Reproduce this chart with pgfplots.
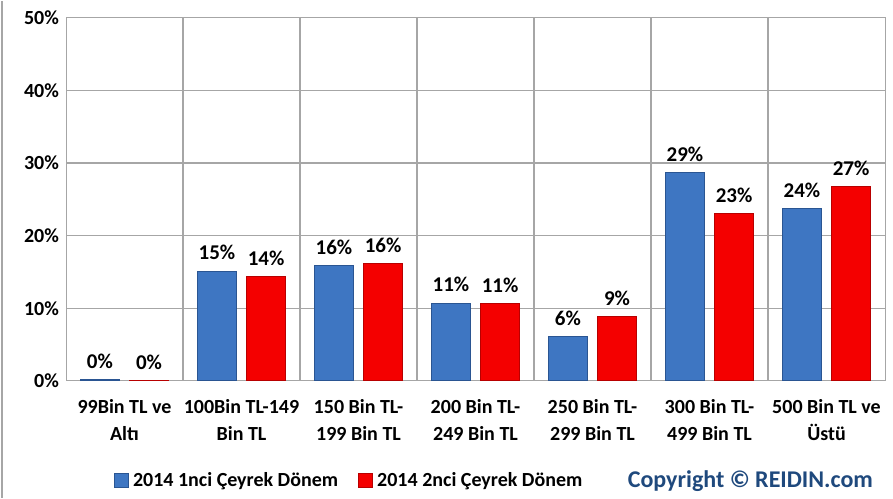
\documentclass[border=0pt]{standalone}
\usepackage{fontspec}
\setmainfont{Carlito}
\usepackage{pgfplots}
\pgfplotsset{compat=1.18}

\definecolor{gridgray}{HTML}{A6A6A6}
\definecolor{bluefill}{HTML}{3E76C2}
\definecolor{blueedge}{HTML}{2A5592}
\definecolor{redfill}{HTML}{F40000}
\definecolor{rededge}{HTML}{B80000}
\definecolor{copyblue}{HTML}{1F497D}

% values (%)
\pgfplotstableread{
x q1 q2
0 0.2 0.0
1 15.1 14.3
2 15.9 16.1
3 10.7 10.6
4 6.1 8.8
5 28.7 23.0
6 23.7 26.7
}\shares

\begin{document}
\begin{tikzpicture}
\begin{axis}[
    name=ax,
    scale only axis,
    width=409.5pt, height=181.5pt,
    xmin=-0.5, xmax=6.5,
    ymin=0, ymax=50,
    ybar,
    bar width=0.34,
    /pgf/number format/assume math mode=true,
    font=\fontsize{10pt}{12pt}\selectfont\bfseries,
    axis line style={gridgray},
    major tick length=0pt, minor tick length=0pt,
    ytick={0,10,...,50},
    yticklabel={\pgfmathprintnumber[fixed,precision=0]{\tick}\%},
    xtick={0,...,6},
    xticklabels={99Bin TL ve\\Altı, 100Bin TL-149\\Bin TL, 150 Bin TL-\\199 Bin TL,
                 200 Bin TL-\\249 Bin TL, 250 Bin TL-\\299 Bin TL, 300 Bin TL-\\499 Bin TL,
                 500 Bin TL ve\\Üstü},
    xticklabel style={align=center, yshift=-6pt, font=\fontsize{10pt}{13.5pt}\selectfont\bfseries},
    minor xtick={0.5,1.5,...,5.5},
    ymajorgrids, xminorgrids,
    grid style={gridgray, line width=0.6pt},
    nodes near coords={\pgfmathprintnumber[fixed,precision=0]{\pgfplotspointmeta}\%},
    every node near coord/.append style={font=\fontsize{10.5pt}{12pt}\selectfont\bfseries, yshift=2pt},
    legend columns=2,
    legend style={at={(0.347,-0.275)}, anchor=center, draw=none, fill=none,
                  font=\fontsize{10pt}{12pt}\selectfont\bfseries,
                  /tikz/every even column/.append style={column sep=8pt}},
    legend image code/.code={\fill[#1] (0pt,-3.5pt) rectangle (7pt,3.5pt);},
]
\addplot[fill=bluefill, draw=blueedge, line width=0.5pt, bar shift=-0.21]
    table[x=x, y=q1] {\shares};
\addplot[fill=redfill, draw=rededge, line width=0.5pt, bar shift=0.21]
    table[x=x, y=q2] {\shares};
\legend{2014 1nci Çeyrek Dönem, 2014 2nci Çeyrek Dönem}
\end{axis}
\node[anchor=east, text=copyblue, font=\fontsize{12pt}{14pt}\selectfont\bfseries] at (407pt,-50pt) {Copyright © REIDIN.com};
\draw[gridgray, line width=0.8pt] (-32pt,-58.5pt) -- (-32pt,190pt);
\useasboundingbox (-33pt,-58.5pt) rectangle (413.5pt,190pt);
\end{tikzpicture}
\end{document}
